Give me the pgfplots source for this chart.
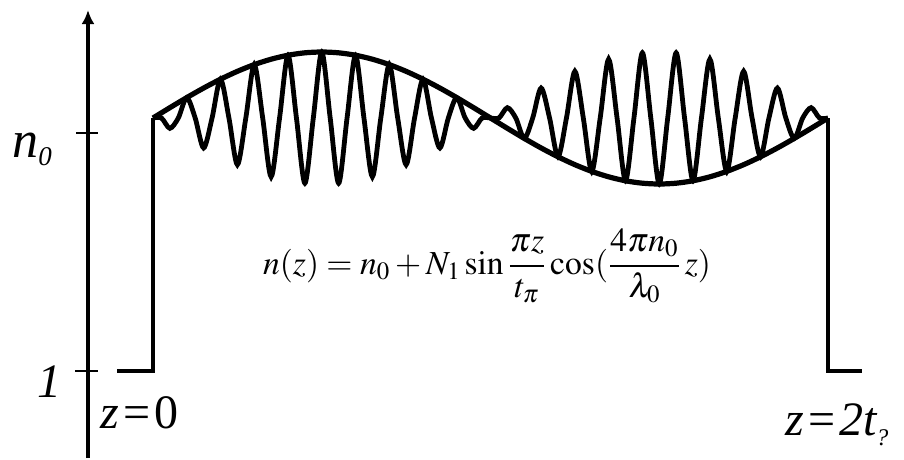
\documentclass[border=0pt]{standalone}
\usepackage{mathptmx}
\usepackage{fontspec}
\setmainfont{Liberation Serif}
\usepackage{pgfplots}
\pgfplotsset{compat=1.18}
\usetikzlibrary{arrows.meta}
\begin{document}
\begin{tikzpicture}
\begin{axis}[scale only axis, width=452pt, height=229pt,
  xmin=0, xmax=904, ymin=0, ymax=458, y dir=reverse,
  axis lines=none, clip=false]
\addplot[draw=none] coordinates {(0,0) (904,458)};
% vertical axis with arrow
\addplot[line width=1.7pt, -{Latex[length=7pt,width=6.5pt]}] coordinates {(88,458) (88,10)};
\addplot[line width=1.4pt] coordinates {(76,133) (98,133)};
\addplot[line width=1.4pt] coordinates {(75,371) (98,371)};
% step profile
\addplot[line width=2pt] coordinates {(117,371) (153,371) (153,118)};
\addplot[line width=2pt] coordinates {(828,118) (828,371) (862,371)};
% envelope
\addplot[line width=2.6pt, smooth] coordinates {
(153,118) (169.88,107.68) (186.75,97.61) (203.63,88.04) (220.5,79.21)
(237.38,71.33) (254.25,64.61) (271.13,59.19) (288,55.23) (304.88,52.81)
(321.75,52) (338.63,52.81) (355.5,55.23) (372.38,59.19) (389.25,64.61)
(406.13,71.33) (423,79.21) (439.88,88.04) (456.75,97.61) (473.63,107.68)
(490.5,118) (507.38,128.32) (524.25,138.39) (541.13,147.96) (558,156.79)
(574.88,164.67) (591.75,171.39) (608.63,176.81) (625.5,180.77) (642.38,183.19)
(659.25,184) (676.13,183.19) (693,180.77) (709.88,176.81) (726.75,171.39)
(743.63,164.67) (760.5,156.79) (777.38,147.96) (794.25,138.39) (811.13,128.32)
(828,118)};
% modulated index
\addplot[line width=2.4pt, smooth] coordinates {
(153,118) (161.44,118) (169.88,128.32) (178.31,118) (186.75,97.61)
(195.19,118) (203.63,147.96) (212.06,118) (220.5,79.21) (228.94,118)
(237.38,164.67) (245.81,118) (254.25,64.61) (262.69,118) (271.13,176.81)
(279.56,118) (288,55.23) (296.44,118) (304.88,183.19) (313.31,118)
(321.75,52) (330.19,118) (338.63,183.19) (347.06,118) (355.5,55.23)
(363.94,118) (372.38,176.81) (380.81,118) (389.25,64.61) (397.69,118)
(406.13,164.67) (414.56,118) (423,79.21) (431.44,118) (439.88,147.96)
(448.31,118) (456.75,97.61) (465.19,118) (473.63,128.32) (482.06,118)
(490.5,118) (498.94,118) (507.38,107.68) (515.81,118) (524.25,138.39)
(532.69,118) (541.13,88.04) (549.56,118) (558,156.79) (566.44,118)
(574.88,71.33) (583.31,118) (591.75,171.39) (600.19,118) (608.63,59.19)
(617.06,118) (625.5,180.77) (633.94,118) (642.38,52.81) (650.81,118)
(659.25,184) (667.69,118) (676.13,52.81) (684.56,118) (693,180.77)
(701.44,118) (709.88,59.19) (718.31,118) (726.75,171.39) (735.19,118)
(743.63,71.33) (752.06,118) (760.5,156.79) (768.94,118) (777.38,88.04)
(785.81,118) (794.25,138.39) (802.69,118) (811.13,107.68) (819.56,118)
(828,118)};
% labels
\node[anchor=base west, inner sep=0pt, font=\fontsize{26}{26}\selectfont\itshape]
  at (axis cs:12,157) {n\raisebox{-4pt}{\fontsize{13.5}{13.5}\selectfont 0}};
\node[anchor=base, inner sep=0pt, font=\fontsize{24}{24}\selectfont\itshape]
  at (axis cs:49,397) {1};
\node[anchor=base west, inner sep=0pt, font=\fontsize{24}{24}\selectfont]
  at (axis cs:100,428) {\itshape z\hspace{2pt}\upshape=\hspace{2pt}0};
\node[anchor=base west, inner sep=0pt, font=\fontsize{24}{24}\selectfont]
  at (axis cs:785,435) {\itshape z\hspace{2pt}\upshape=\hspace{2pt}\itshape 2t\raisebox{-5pt}{\fontsize{12}{12}\selectfont ?}};
\node[inner sep=0pt, font=\fontsize{16.8}{16.8}\selectfont]
  at (axis cs:487,266) {$\displaystyle n(z)=n_0+N_1\sin\frac{\pi z}{t_\pi}\cos(\frac{4\pi n_0}{\lambda_0}\,z)$};
\end{axis}
\end{tikzpicture}
\end{document}
